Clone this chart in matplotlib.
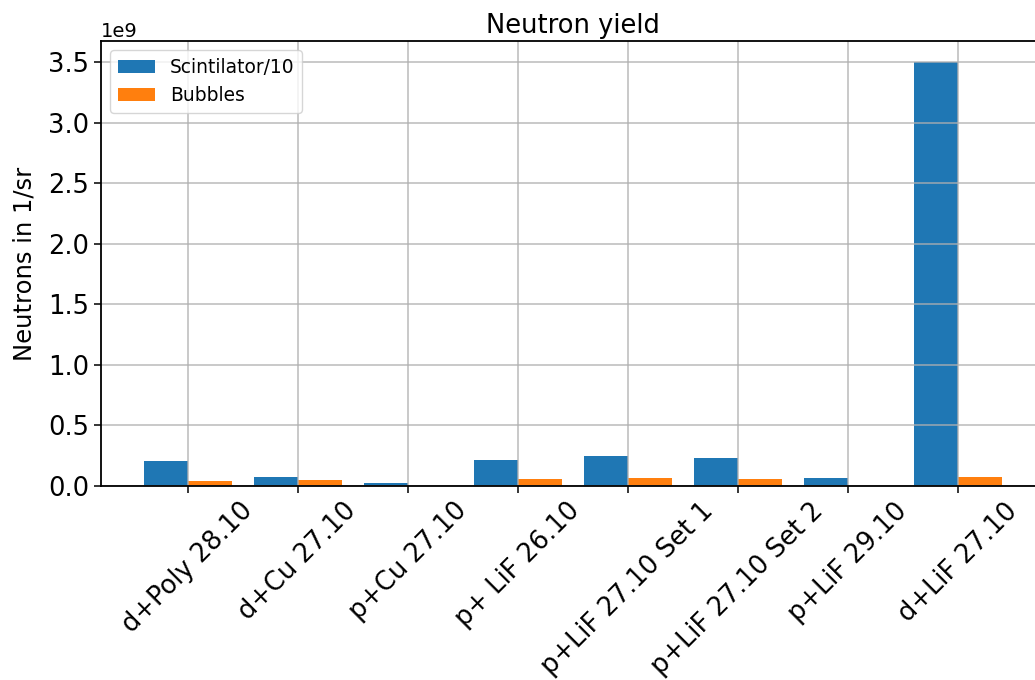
import numpy as np
import matplotlib
matplotlib.use('Agg')
import matplotlib.pyplot as plt

# Messpunkte
labels = ['d+Poly 28.10', 'd+Cu 27.10', 'p+Cu 27.10', 'p+ LiF 26.10',
          'p+LiF 27.10 Set 1', 'p+LiF 27.10 Set 2', 'p+LiF 29.10', 'd+LiF 27.10']
scint = np.array([0.207, 0.074, 0.025, 0.215, 0.248, 0.232, 0.066, 3.5]) * 1e9
bubbles = np.array([0.041, 0.050, 0.0, 0.058, 0.066, 0.058, 0.0, 0.074]) * 1e9

x = np.arange(len(labels))

fig = plt.figure(figsize=(10.35, 6.8), dpi=100)
ax = fig.add_axes([101/1035, 1-486/680, 944/1035, (486-41)/680])

ax.bar(x, scint, width=-0.4, align='edge', label='Scintilator/10')
ax.bar(x, bubbles, width=0.4, align='edge', label='Bubbles')

ax.set_xticks(x)
ax.set_xticklabels(labels, rotation=45, fontsize=18.5)
ax.tick_params(axis='y', labelsize=18.5)
ax.tick_params(length=5, width=1.1)
ax.yaxis.get_offset_text().set_fontsize(14)
ax.set_xlim(-0.79, 7.79)
ax.set_ylabel('Neutrons in 1/sr', fontsize=17.5, labelpad=8)
ax.set_title('Neutron yield', fontsize=18.5)
ax.grid(True, color='#b0b0b0', linewidth=1.2, alpha=0.8)
for s in ax.spines.values():
    s.set_linewidth(1.3)
ax.legend(loc='upper left', fontsize=13.4)

plt.savefig('out.png', dpi=100)
